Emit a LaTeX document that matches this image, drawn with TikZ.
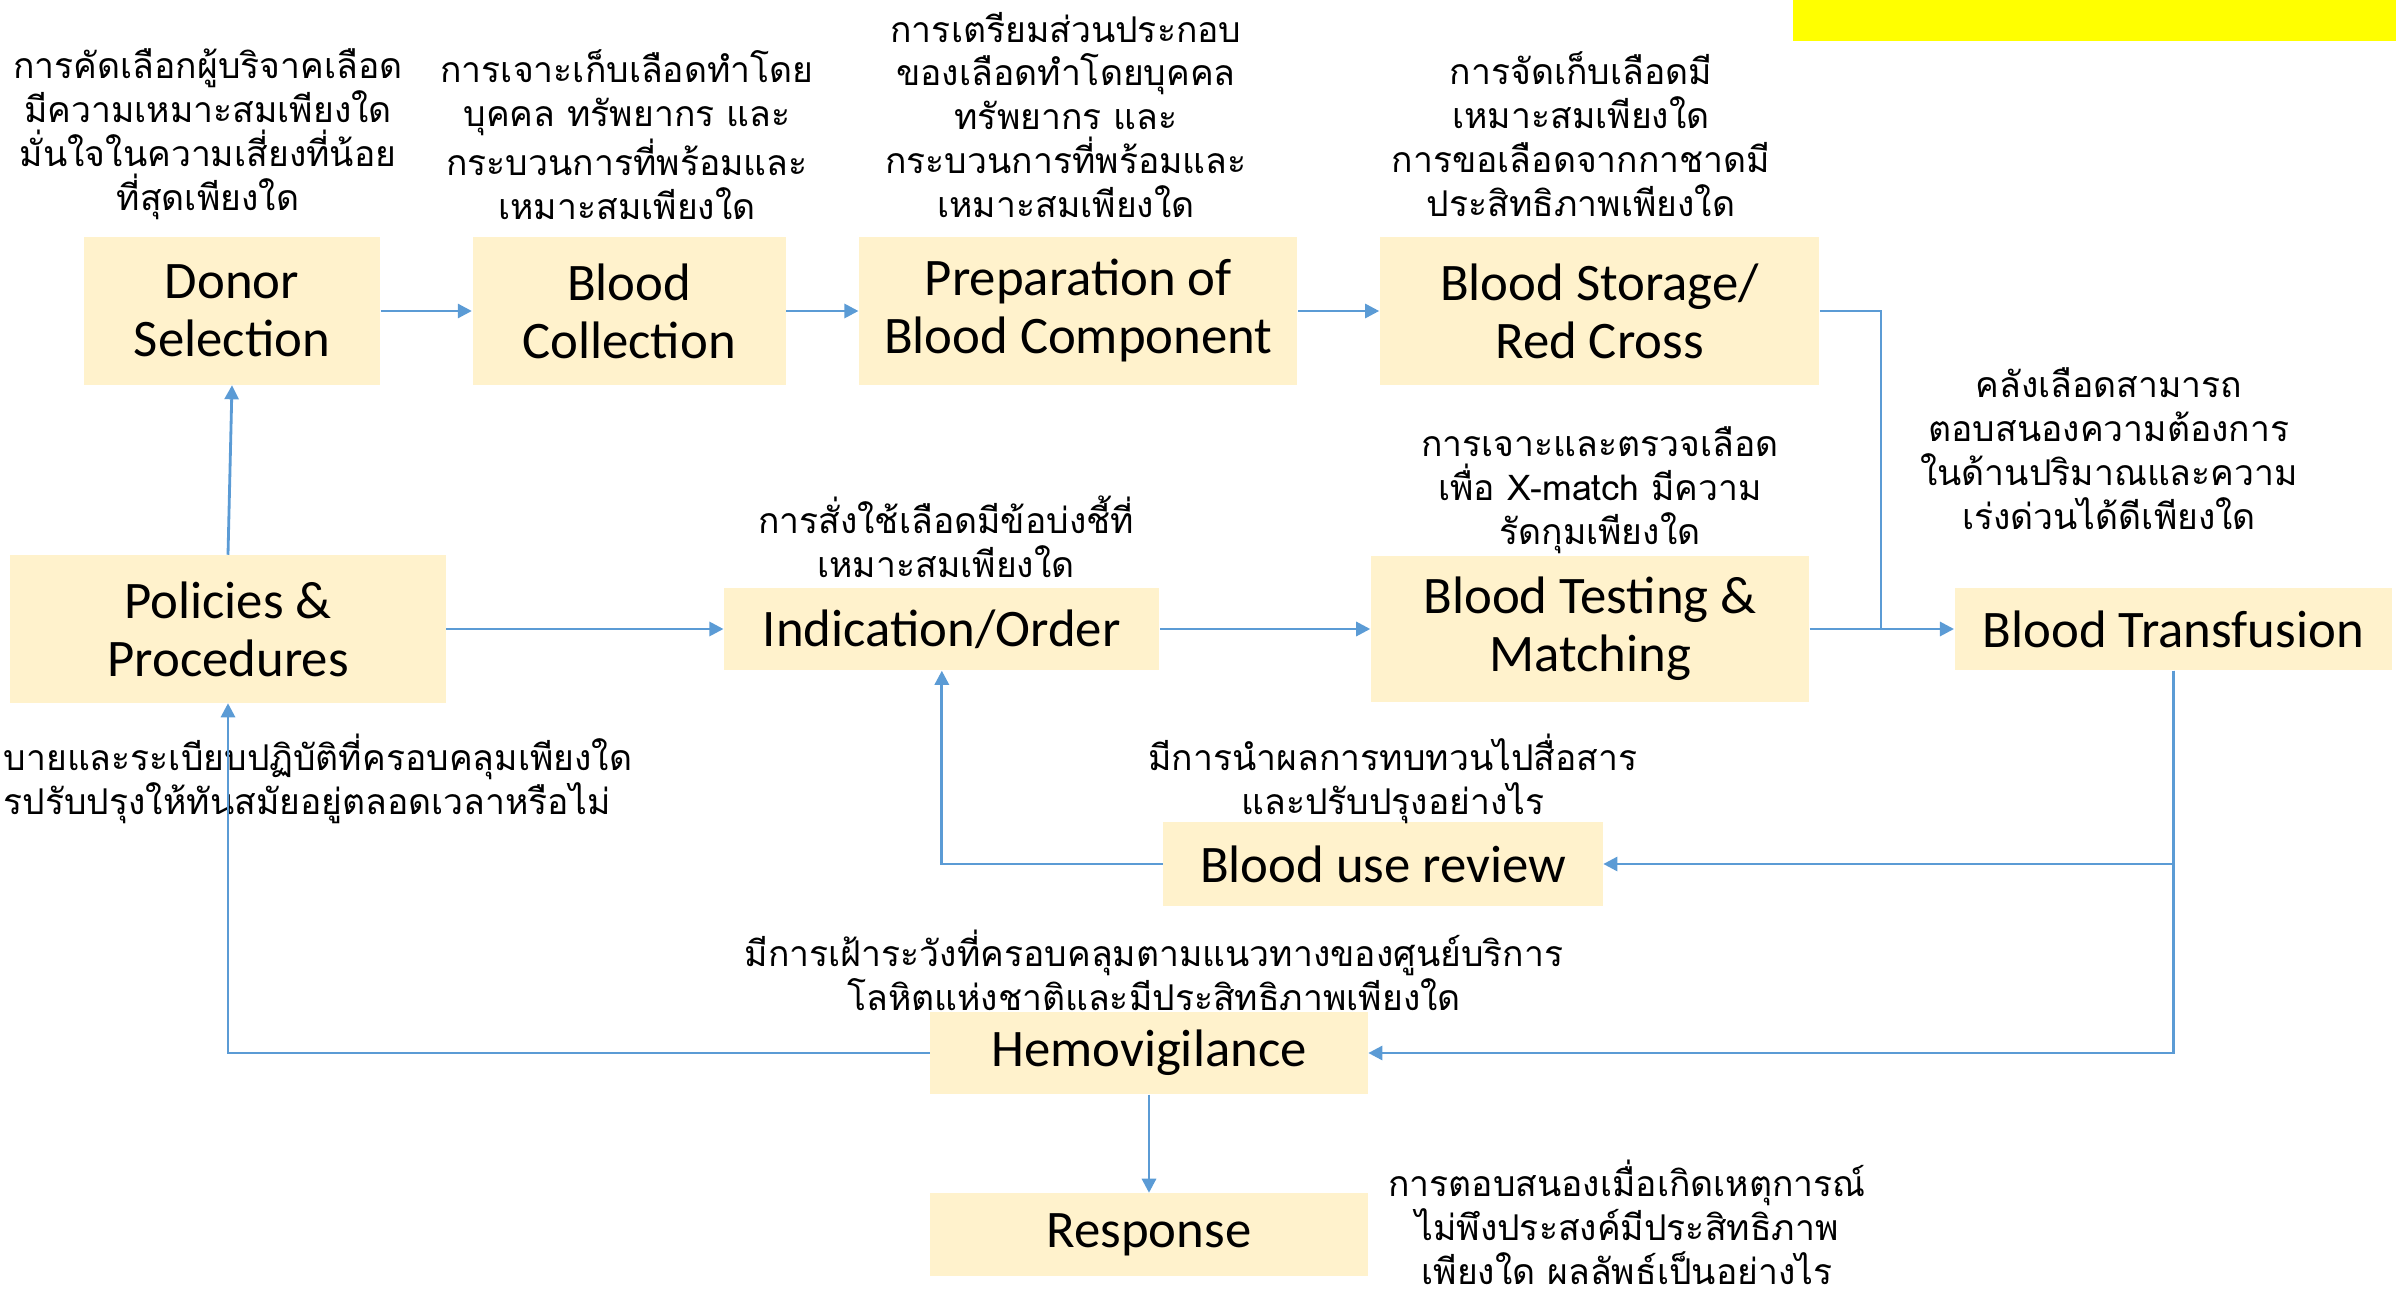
\documentclass[tikz,border=0pt]{standalone}
\usepackage{fontspec}
\setmainfont{Carlito}
\newfontfamily\thaifont[Script=Thai]{Loma}
\usepackage{xcolor}
\usetikzlibrary{positioning, arrows.meta}

\definecolor{boxfill}{HTML}{FFF2CC}
\definecolor{linkblue}{HTML}{5B9BD5}
\definecolor{tagyellow}{HTML}{FFFF00}

\begin{document}
\begin{tikzpicture}[
		x=0.01cm, y=-0.01cm,
		>={Triangle[length=4pt,width=4pt]},
		stage/.style={fill=boxfill, align=center, inner sep=0pt, font=\fontsize{15}{16.5}\selectfont},
		note/.style={align=center, inner sep=0pt, font=\thaifont\fontsize{10.1}{12.5}\selectfont},
		link/.style={draw=linkblue, line width=0.8pt}
		]
		\useasboundingbox (0,0) rectangle (2396,1297);
		
		% ==========================================
		% TAG (top right, cut off)
		% ==========================================
		\fill[tagyellow] (1793,0) rectangle (2396,41);
		
		% ==========================================
		% TOP ROW: SUPPLY CHAIN
		% ==========================================
		\node[stage, minimum width=2.96cm, minimum height=1.47cm] (donor) at (232,311) {Donor\\Selection};
		\node[stage, minimum width=3.13cm, minimum height=1.47cm, right=0.91cm of donor] (collect) {Blood\\Collection};
		\node[stage, minimum width=4.38cm, minimum height=1.47cm, right=0.72cm of collect] (prep) {Preparation of\\Blood Component};
		\node[stage, minimum width=4.39cm, minimum height=1.47cm, right=0.81cm of prep] (store) {Blood Storage/\\Red Cross};
		
		% ==========================================
		% MIDDLE ROW: ORDER TO TRANSFUSION
		% ==========================================
		\node[stage, minimum width=4.35cm, minimum height=1.47cm] (policy) at (228,629) {Policies \&\\Procedures};
		\node[stage, minimum width=4.35cm, minimum height=0.82cm, right=2.77cm of policy] (order) {Indication/Order};
		\node[stage, minimum width=4.38cm, minimum height=1.46cm, right=2.10cm of order] (test) {Blood Testing \&\\Matching};
		\node[stage, minimum width=4.37cm, minimum height=0.82cm, right=1.44cm of test] (transf) {Blood Transfusion};
		
		% ==========================================
		% BOTTOM: REVIEW AND SURVEILLANCE
		% ==========================================
		\node[stage, minimum width=4.39cm, minimum height=0.84cm] (review) at (1383,864) {Blood use review};
		\node[stage, minimum width=4.37cm, minimum height=0.82cm] (hemo) at (1149,1053) {Hemovigilance};
		\node[stage, minimum width=4.37cm, minimum height=0.82cm, below=0.98cm of hemo] (resp) {Response};
		
		% ==========================================
		% QUESTIONS
		% ==========================================
		\node[note] (qdonor) at (208,134) {การคัดเลือกผู้บริจาคเลือด\\มีความเหมาะสมเพียงใด\\มั่นใจในความเสี่ยงที่น้อย\\ที่สุดเพียงใด};
		\node[note] (qcollect) at (627,135) {การเจาะเก็บเลือดทำโดย\\บุคคล ทรัพยากร และ\\กระบวนการที่พร้อมและ\\เหมาะสมเพียงใด};
		\node[note] (qprep) at (1066,115) {การเตรียมส่วนประกอบ\\ของเลือดทำโดยบุคคล\\ทรัพยากร และ\\กระบวนการที่พร้อมและ\\เหมาะสมเพียงใด};
		\node[note] (qstore) at (1581,134) {การจัดเก็บเลือดมี\\เหมาะสมเพียงใด\\การขอเลือดจากกาชาดมี\\ประสิทธิภาพเพียงใด};
		\node[note] (qtransf) at (2109,449) {คลังเลือดสามารถ\\ตอบสนองความต้องการ\\ในด้านปริมาณและความ\\เร่งด่วนได้ดีเพียงใด};
		\node[note] (qtest) at (1600,490) {การเจาะและตรวจเลือด\\เพื่อ X-match มีความ\\รัดกุมเพียงใด};
		\node[note] (qorder) at (946,537) {การสั่งใช้เลือดมีข้อบ่งชี้ที่\\เหมาะสมเพียงใด};
		\node[note, anchor=west, align=left] (qpolicy) at (3,779) {บายและระเบียบปฏิบัติที่ครอบคลุมเพียงใด\\รปรับปรุงให้ทันสมัยอยู่ตลอดเวลาหรือไม่};
		\node[note] (qreview) at (1393,779) {มีการนำผลการทบทวนไปสื่อสาร\\และปรับปรุงอย่างไร};
		\node[note] (qhemo) at (1154,970) {มีการเฝ้าระวังที่ครอบคลุมตามแนวทางของศูนย์บริการ\\โลหิตแห่งชาติและมีประสิทธิภาพเพียงใด};
		\node[note] (qresp) at (1627,1222) {การตอบสนองเมื่อเกิดเหตุการณ์\\ไม่พึงประสงค์มีประสิทธิภาพ\\เพียงใด ผลลัพธ์เป็นอย่างไร};
		
		% ==========================================
		% CONNECTORS
		% ==========================================
		\coordinate (join) at (1881,628);
		\draw[link, ->] (donor) -- (collect);
		\draw[link, ->] (collect) -- (prep);
		\draw[link, ->] (prep) -- (store);
		\draw[link] (store.east) -| (join);
		\draw[link, ->] (policy.north) -- (donor.south);
		\draw[link, ->] (policy) -- (order);
		\draw[link, ->] (order) -- (test);
		\draw[link, ->] (test) -- (transf);
		\draw[link, ->] (transf.south) |- (review.east);
		\draw[link, ->] (transf.south) |- (hemo.east);
		\draw[link, ->] (review.west) -| (order.south);
		\draw[link, ->] (hemo.west) -| (policy.south);
		\draw[link, ->] (hemo) -- (resp);
		
	\end{tikzpicture}
\end{document}
